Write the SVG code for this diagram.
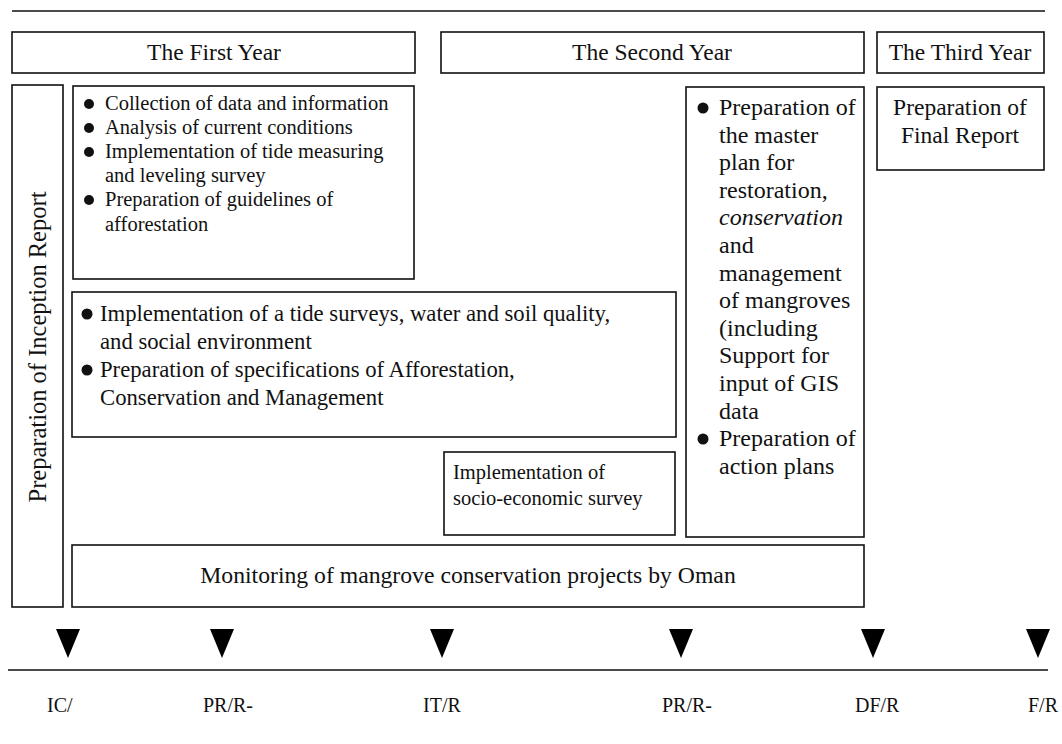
<svg xmlns="http://www.w3.org/2000/svg" width="1062" height="744" viewBox="0 0 1062 744">
  <defs>
    <style>
      .box { fill: #ffffff; stroke: #111111; stroke-width: 1.6; }
      .rule { stroke: #111111; stroke-width: 1.6; fill: none; }
      .t { font-family: "Liberation Serif", "Times New Roman", serif; fill: #111111; }
      .h { font-size: 23.5px; text-anchor: middle; }
      .a { font-size: 20.5px; }
      .b { font-size: 22.7px; }
      .m { font-size: 24px; }
      .s { font-size: 20.5px; }
      .lbl { font-size: 20px; }
      .dot { fill: #111111; }
      .tri { fill: #000000; }
    </style>
  </defs>
  <rect width="1062" height="744" fill="#ffffff"/>

  <!-- top rule -->
  <line class="rule" x1="12" y1="11" x2="1045" y2="11"/>

  <!-- year headers -->
  <g id="year1">
    <rect class="box" x="12" y="32" width="403" height="41"/>
    <text class="t h" x="214" y="60">The First Year</text>
  </g>
  <g id="year2">
    <rect class="box" x="441" y="32" width="423" height="41"/>
    <text class="t h" x="652" y="60">The Second Year</text>
  </g>
  <g id="year3">
    <rect class="box" x="877" y="32" width="167" height="41"/>
    <text class="t h" x="960" y="60">The Third Year</text>
  </g>

  <!-- inception report (vertical) -->
  <g id="inception">
    <rect class="box" x="12" y="85" width="51" height="522"/>
    <text class="t" font-size="24.5" text-anchor="middle" transform="translate(46,347) rotate(-90)">Preparation of Inception Report</text>
  </g>

  <!-- first-year survey tasks -->
  <g id="tasks-a">
    <rect class="box" x="73" y="86" width="341" height="193"/>
    <circle class="dot" cx="89" cy="104" r="5"/>
    <circle class="dot" cx="89" cy="128" r="5"/>
    <circle class="dot" cx="89" cy="152" r="5"/>
    <circle class="dot" cx="89" cy="200" r="5"/>
    <text class="t a" x="105" y="110">Collection of data and information</text>
    <text class="t a" x="105" y="134">Analysis of current conditions</text>
    <text class="t a" x="105" y="158">Implementation of tide measuring</text>
    <text class="t a" x="105" y="182">and leveling survey</text>
    <text class="t a" x="105" y="206">Preparation of guidelines of</text>
    <text class="t a" x="105" y="231">afforestation</text>
  </g>

  <!-- field surveys and specifications -->
  <g id="tasks-b">
    <rect class="box" x="72" y="292" width="604" height="145"/>
    <circle class="dot" cx="87" cy="314" r="5.5"/>
    <circle class="dot" cx="87" cy="370" r="5.5"/>
    <text class="t b" x="100" y="321">Implementation of a tide surveys, water and soil quality,</text>
    <text class="t b" x="100" y="349">and social environment</text>
    <text class="t b" x="100" y="377">Preparation of specifications of Afforestation,</text>
    <text class="t b" x="100" y="405">Conservation and Management</text>
  </g>

  <!-- socio-economic survey -->
  <g id="socio">
    <rect class="box" x="444" y="452" width="231" height="83"/>
    <text class="t s" x="453" y="479">Implementation of</text>
    <text class="t s" x="453" y="505">socio-economic survey</text>
  </g>

  <!-- master plan -->
  <g id="master-plan">
    <rect class="box" x="686" y="87" width="178" height="450"/>
    <circle class="dot" cx="703" cy="108" r="5.5"/>
    <text class="t m" x="719" y="115">Preparation of</text>
    <text class="t m" x="719" y="143">the master</text>
    <text class="t m" x="719" y="170">plan for</text>
    <text class="t m" x="719" y="198">restoration,</text>
    <text class="t m" x="719" y="225" font-style="italic">conservation</text>
    <text class="t m" x="719" y="253">and</text>
    <text class="t m" x="719" y="281">management</text>
    <text class="t m" x="719" y="308">of mangroves</text>
    <text class="t m" x="719" y="336">(including</text>
    <text class="t m" x="719" y="363">Support for</text>
    <text class="t m" x="719" y="391">input of GIS</text>
    <text class="t m" x="719" y="419">data</text>
    <circle class="dot" cx="703" cy="439" r="5.5"/>
    <text class="t m" x="719" y="446">Preparation of</text>
    <text class="t m" x="719" y="474">action plans</text>
  </g>

  <!-- final report -->
  <g id="final-report">
    <rect class="box" x="877" y="87" width="167" height="83"/>
    <text class="t h" x="960" y="115">Preparation of</text>
    <text class="t h" x="960" y="143">Final Report</text>
  </g>

  <!-- monitoring -->
  <g id="monitoring">
    <rect class="box" x="72" y="545" width="792" height="62"/>
    <text class="t" font-size="23.7" text-anchor="middle" x="468" y="583">Monitoring of mangrove conservation projects by Oman</text>
  </g>

  <!-- milestone markers and timeline -->
  <g id="connectors">
    <polygon class="tri" points="56,629 80,629 68,658"/>
    <polygon class="tri" points="210,629 234,629 222,658"/>
    <polygon class="tri" points="430,629 454,629 442,658"/>
    <polygon class="tri" points="669,629 693,629 681,658"/>
    <polygon class="tri" points="861,629 885,629 873,658"/>
    <polygon class="tri" points="1026,629 1050,629 1038,658"/>
    <line class="rule" x1="8" y1="670" x2="1048" y2="670"/>
  </g>

  <g id="milestone-labels">
    <text class="t lbl" x="47" y="712">IC/</text>
    <text class="t lbl" x="203" y="712">PR/R-</text>
    <text class="t lbl" x="423" y="712">IT/R</text>
    <text class="t lbl" x="662" y="712">PR/R-</text>
    <text class="t lbl" x="855" y="712">DF/R</text>
    <text class="t lbl" x="1028" y="712">F/R</text>
  </g>
</svg>
